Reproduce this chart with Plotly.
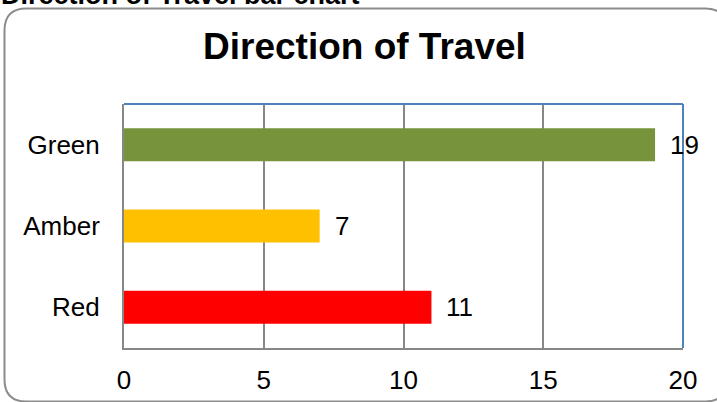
import plotly.graph_objects as go

categories = ["Red", "Amber", "Green"]
values = [11, 7, 19]
bar_colors = ["#FF0000", "#FFC000", "#77933C"]
x_ticks = [0, 5, 10, 15, 20]

W, H = 717, 402
L, R, T, B = 124, 683, 104, 348  # plot area in pixels
PW, PH = R - L, B - T

def px(x):
    return (x - L) / PW

def py(y):
    return (B - y) / PH

fig = go.Figure()
fig.add_trace(go.Bar(
    x=values, y=categories, orientation="h",
    marker=dict(color=bar_colors, line=dict(width=0)),
    hoverinfo="skip",
))

for v, c in zip(values, categories):
    fig.add_annotation(
        x=v, y=c, xref="x", yref="y", text=str(v), showarrow=False,
        xanchor="left", yanchor="middle", xshift=13,
        font=dict(family="Liberation Sans, Arial", size=26, color="#000000"),
    )

# rounded frame
x0, x1, y0, y1, r = 4.5, 727, 8.5, 401.5, 22
path = (
    f"M {px(x0+r)},{py(y0)} L {px(x1-r)},{py(y0)} Q {px(x1)},{py(y0)} {px(x1)},{py(y0+r)} "
    f"L {px(x1)},{py(y1-r)} Q {px(x1)},{py(y1)} {px(x1-r)},{py(y1)} "
    f"L {px(x0+r)},{py(y1)} Q {px(x0)},{py(y1)} {px(x0)},{py(y1-r)} "
    f"L {px(x0)},{py(y0+r)} Q {px(x0)},{py(y0)} {px(x0+r)},{py(y0)} Z"
)
fig.add_shape(type="path", path=path, xref="paper", yref="paper",
              line=dict(color="#8C8C8C", width=2), layer="below")

# blue top and right borders
fig.add_shape(type="line", xref="paper", yref="paper", x0=0, x1=1, y0=1, y1=1,
              line=dict(color="#4F81BD", width=2))
fig.add_shape(type="line", xref="paper", yref="paper", x0=1, x1=1, y0=0, y1=1,
              line=dict(color="#4F81BD", width=2))

# title
fig.add_annotation(
    x=px(364), y=py(46), xref="paper", yref="paper", text="<b>Direction of Travel</b>",
    showarrow=False, xanchor="center", yanchor="middle",
    font=dict(family="Liberation Sans, Arial", size=37, color="#000000"),
)
# cut-off heading on top (partially outside the page, as in the reference)
fig.add_annotation(
    x=px(0), y=py(11), xref="paper", yref="paper", text="<b>Direction of Travel bar chart</b>",
    showarrow=False, xanchor="left", yanchor="bottom", borderpad=0,
    font=dict(family="Liberation Sans, Arial", size=27, color="#000000"),
)

fig.update_layout(
    width=W, height=H,
    margin=dict(l=L, r=W - R, t=T, b=H - B, autoexpand=False),
    paper_bgcolor="white", plot_bgcolor="white",
    showlegend=False, bargap=0.594,
    font=dict(family="Liberation Sans, Arial", size=26, color="#000000"),
)
fig.update_xaxes(
    range=[0, 20], tickvals=x_ticks, ticktext=[str(t) for t in x_ticks],
    showgrid=True, gridcolor="#878787", gridwidth=1.5,
    showline=True, linecolor="#878787", linewidth=2,
    zeroline=False, ticks="", ticklabelstandoff=8, automargin=False,
    fixedrange=True,
)
fig.update_yaxes(
    categoryorder="array", categoryarray=categories,
    showgrid=False, showline=True, linecolor="#878787", linewidth=2,
    ticks="", ticklabelstandoff=17, automargin=False, fixedrange=True,
)

fig.write_html("out.html")
